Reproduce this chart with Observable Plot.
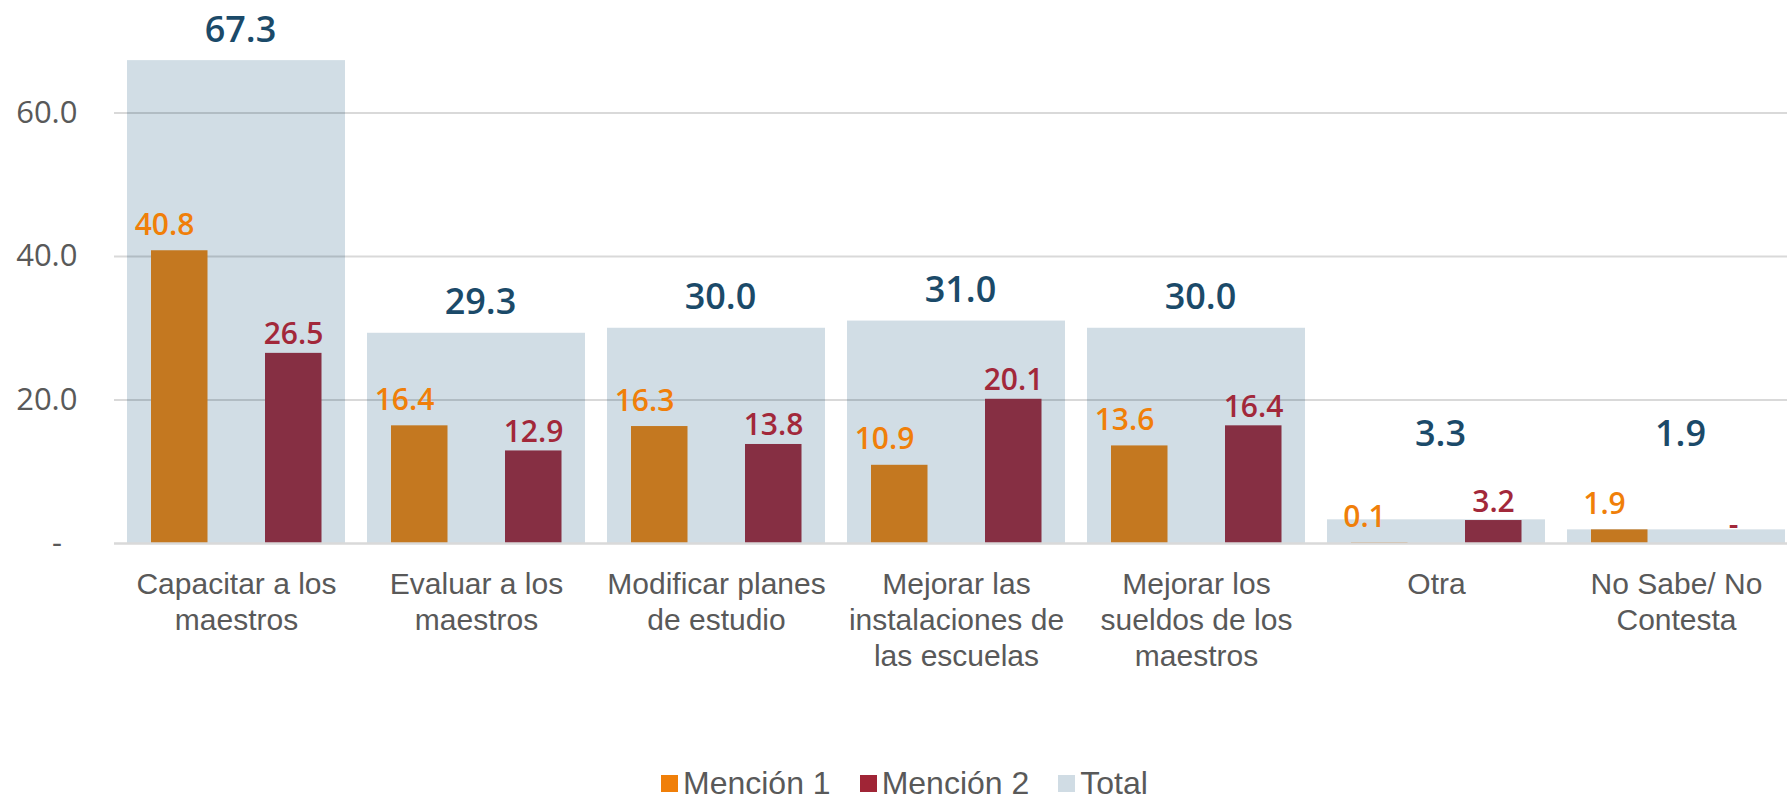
<!DOCTYPE html>
<html>
<head>
<meta charset="utf-8">
<script src="https://cdn.jsdelivr.net/npm/d3@7"></script>
<script src="https://cdn.jsdelivr.net/npm/@observablehq/plot@0.6"></script>
<style>
  html, body { margin: 0; padding: 0; background: #fff; overflow: hidden; }
  #wrap { position: relative; width: 1787px; height: 798px; }
  #legend { position: absolute; left: 661px; top: 765px; display: flex; align-items: center;
            font-family: "Liberation Sans Narrow", "Arial Narrow", sans-serif; font-size: 32px; color: #595959; }
  #legend .item { display: flex; align-items: center; margin-right: 29px; }
  #legend .sw { width: 17px; height: 17px; margin-right: 5px; }
</style>
</head>
<body>
<div id="wrap"><div id="chart"></div><div id="legend"></div></div>
<script>
const categories = ["Capacitar a los\nmaestros", "Evaluar a los\nmaestros", "Modificar planes\nde estudio", "Mejorar las\ninstalaciones de\nlas escuelas", "Mejorar los\nsueldos de los\nmaestros", "Otra", "No Sabe/ No\nContesta"];
const mencion1 = [40.8, 16.4, 16.3, 10.9, 13.6, 0.1, 1.9];
const mencion2 = [26.5, 12.9, 13.8, 20.1, 16.4, 3.2, 0];
const total = [67.3, 29.3, 30.0, 31.0, 30.0, 3.3, 1.9];
const seriesNames = ["Mención 1", "Mención 2", "Total"];
const legendColors = ["#F07F09", "#A02536", "#D0DCE4"];
const yTicks = [0, 20, 40, 60];

const rows = categories.map((c, i) => ({cat: c, m1: mencion1[i], m2: mencion2[i], total: total[i]}));
const fmt = v => v === 0 ? "-" : v.toFixed(1);

const W = 1787, H = 760;
const numFont = "'Open Sans', sans-serif";
const narrowFont = "'Liberation Sans Narrow', 'Arial Narrow', sans-serif";

const chart = Plot.plot({
  width: W,
  height: H,
  marginLeft: 114,
  marginRight: 0,
  marginTop: 112.5,
  marginBottom: H - 543,
  style: {fontFamily: numFont, background: "#fff"},
  x: {domain: categories, range: [114, 1797.5], paddingInner: 0.0915, paddingOuter: 0.0457, align: 0.5},
  y: {domain: [0, 60], nice: false},
  marks: [
    Plot.barY(rows, {x: "cat", y: "total", fill: "#D1DDE5"}),
    Plot.gridY(yTicks.filter(d => d > 0), {stroke: "#000", strokeOpacity: 0.15, strokeWidth: 2}),
    Plot.barY(rows, {x: "cat", y: "m1", fill: "#C47820", insetLeft: 24, insetRight: 137.5}),
    Plot.barY(rows, {x: "cat", y: "m2", fill: "#862F43", insetLeft: 138, insetRight: 23.5}),
    Plot.ruleY([0], {stroke: "#D9D9D9", strokeWidth: 2.5}),
    Plot.text(rows, {x: "cat", y: d => Math.max(d.total, 11.0), text: d => fmt(d.total), dx: 4, dy: -19,
      lineAnchor: "bottom", fill: "#1B4A69", fontSize: 36, fontWeight: 600, fontFamily: numFont}),
    Plot.text(rows, {x: "cat", y: "m1", text: d => fmt(d.m1), dx: -72, dy: -16,
      lineAnchor: "bottom", fill: "#F07F09", fontSize: 30, fontWeight: 600, fontFamily: numFont}),
    Plot.text(rows, {x: "cat", y: "m2", text: d => fmt(d.m2), dx: 57, dy: -9,
      lineAnchor: "bottom", fill: "#A2283A", fontSize: 30, fontWeight: 600, fontFamily: numFont}),
    Plot.axisY({ticks: yTicks, tickFormat: d => d === 0 ? "-\u2002" : d.toFixed(1), tickSize: 0, tickPadding: 37,
      fontSize: 31, fill: "#595959", label: null, fontFamily: numFont}),
    Plot.axisX({tickSize: 0, tickPadding: 25, fontSize: 30, lineHeight: 1.2, fill: "#595959",
      label: null, fontFamily: narrowFont})
  ]
});
document.getElementById("chart").appendChild(chart);

const legend = d3.select("#legend");
seriesNames.forEach((name, i) => {
  const it = legend.append("div").attr("class", "item");
  it.append("div").attr("class", "sw").style("background", legendColors[i]);
  it.append("span").text(name);
});
</script>
</body>
</html>
